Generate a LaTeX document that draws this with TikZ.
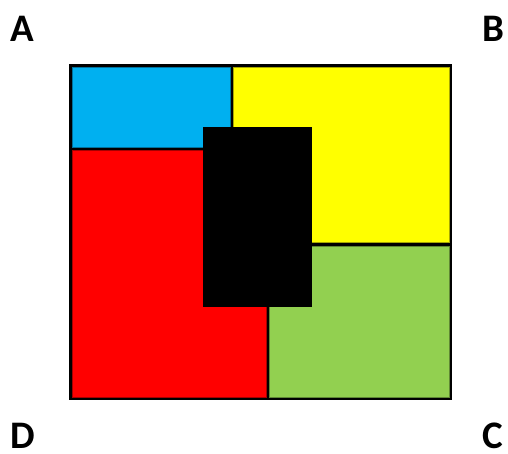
\documentclass[tikz,border=0pt]{standalone}
\usepackage{fontspec}
\setmainfont{Carlito}
\definecolor{cblue}{RGB}{0,176,240}
\definecolor{cyellow}{RGB}{255,255,0}
\definecolor{cred}{RGB}{255,0,0}
\definecolor{cgreen}{RGB}{146,208,80}
\begin{document}
\begin{tikzpicture}[x=1pt,y=-1pt,
  lbl/.style={font=\fontsize{39}{42}\selectfont\bfseries, inner sep=0pt},
  patch/.style={fill=#1, draw=#1!65!black, line width=0.6pt}]
\useasboundingbox (0,0) rectangle (508,454);
\fill[black] (69,64) rectangle (452,400);
\path[patch=cblue] (72,67) rectangle (230,147.5);
\path[patch=cyellow] (233,67) rectangle (449,242);
\path[patch=cred] (72,150.5) rectangle (266,397);
\path[patch=cgreen] (269,246) rectangle (449,397);
\fill[black] (203,127) rectangle (312,307);
\node[lbl] (A) at (22,29) {A};
\node[lbl] (B) at (493,29) {B};
\node[lbl] (C) at (493,436) {C};
\node[lbl] (D) at (23,436) {D};
\end{tikzpicture}
\end{document}
